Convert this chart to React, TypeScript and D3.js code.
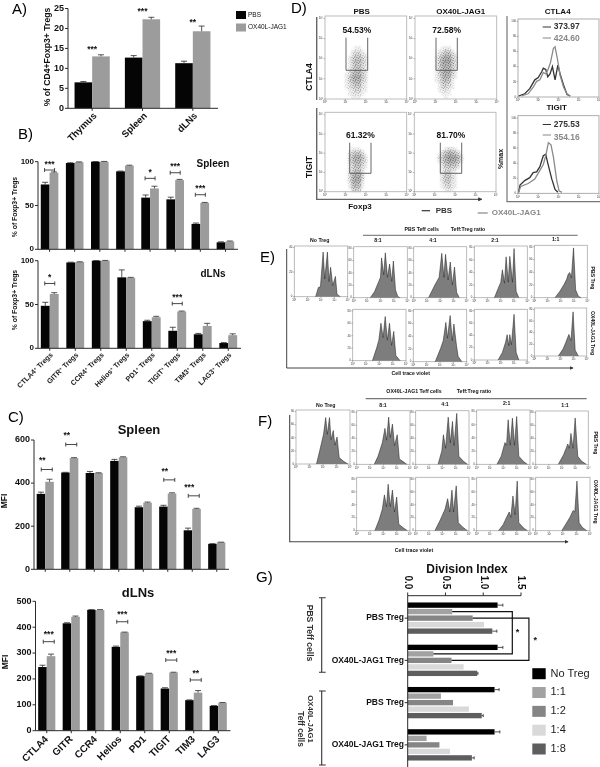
import React from 'react';
import * as d3 from 'd3';

const FONT = '"Liberation Sans", Arial, sans-serif';
const BLACK = '#050505';
const GREY = '#9c9c9c';
const AXIS = '#2b2b2b';

// panel A
const aGroups = ['Thymus', 'Spleen', 'dLNs'];
const aPbs = [6.5, 12.7, 11.3];
const aJag = [13, 22.3, 19.3];
const aPbsErr = [0.2, 0.5, 0.5];
const aJagErr = [0.4, 0.5, 1.3];
const aStars = ['***', '***', '**'];
const aStarLevel = [15.1, 24.5, 21.8];

// panel B
const markers = ['CTLA4', 'GITR', 'CCR4', 'Helios', 'PD1', 'TIGIT', 'TIM3', 'LAG3'];
const bSpleenPbs = [74, 98.5, 100, 89, 59, 57, 29, 8];
const bSpleenJag = [87.5, 99.5, 100, 95.5, 69.5, 79, 53, 9];
const bSpleenPbsErr = [2.5, 0.3, 0.2, 0.3, 3, 2.5, 1, 0.5];
const bSpleenJagErr = [0.8, 0.3, 0.3, 0.5, 2.5, 0.8, 0.5, 0.5];
const bSpleenStars = ['***', '', '', '', '*', '***', '***', ''];
const bSpleenLevel = [90.5, 0, 0, 0, 81, 87.4, 62.3, 0];
const bLnPbs = [48.5, 98, 100, 81, 31, 20, 16, 6];
const bLnJag = [62, 98.5, 100, 80.5, 35.5, 42, 25.5, 15];
const bLnPbsErr = [4, 0.3, 0.2, 8.5, 1, 4, 1, 0.5];
const bLnJagErr = [1.5, 0.3, 0.3, 0.5, 1, 0.5, 3, 1.5];
const bLnStars = ['*', '', '', '', '', '***', '', ''];
const bLnLevel = [74, 0, 0, 0, 0, 51, 0, 0];

// panel C
const cSpleenPbs = [350, 449, 447, 503, 288, 291, 181, 118];
const cSpleenJag = [406, 516, 447, 520, 309, 352, 280, 125];
const cSpleenPbsErr = [8, 1, 7, 7, 5, 6, 10, 1];
const cSpleenJagErr = [12, 2, 1, 2, 3, 3, 3, 1];
const cSpleenStars = ['**', '**', '', '', '', '**', '***', ''];
const cSpleenLevel = [463, 579, 0, 0, 0, 415, 341, 0];
const cLnPbs = [246, 415, 467, 324, 211, 163, 118, 96];
const cLnJag = [288, 440, 466, 380, 221, 225, 147, 108];
const cLnPbsErr = [7, 2, 1, 3, 1, 3, 1, 1];
const cLnJagErr = [8, 3, 2, 1, 1, 1, 8, 1];
const cLnStars = ['***', '', '', '***', '', '***', '**', ''];
const cLnLevel = [344, 0, 0, 421, 0, 273, 196, 0];

// panel D, dot density by log cell
const cloudPbsCtla4 = ['00011000', '00122100', '00244210', '01355320', '01466420', '01365320', '01355310', '02466320', '12677420', '13788420', '13677320', '12466210', '12344210', '01233110', '01222100', '00111000'];
const cloudJagCtla4 = ['00111000', '01243100', '02466310', '13788420', '14899520', '14888520', '13777420', '13788410', '13787310', '12676210', '12565100', '01443100', '01332100', '01221000', '00111000', '00010000'];
const cloudPbsTigit = ['00000000', '00000000', '00111000', '01344200', '02577410', '02688520', '02577420', '01466310', '01355210', '01466200', '02677300', '02788300', '02788200', '01676100', '01565100', '00343000'];
const cloudJagTigit = ['0000000000', '0000000000', '0001221000', '0024664200', '0136887510', '0247999620', '0136887510', '0025665300', '0013443100', '0013421000', '0024521000', '0024531000', '0024521000', '0013421000', '0012321000', '0001210000'];
const ctla4Pbs: [number, number][] = [[0.03, 0], [0.33, 3], [0.58, 10], [0.83, 22], [1, 25], [1.17, 33], [1.25, 38], [1.37, 36], [1.47, 26], [1.58, 30], [1.7, 40], [1.83, 22], [1.97, 42], [2.08, 30], [2.25, 15], [2.42, 2], [2.58, 0]];
const ctla4Jag: [number, number][] = [[0.17, 0], [0.5, 3], [0.75, 12], [0.92, 20], [1.08, 22], [1.25, 32], [1.37, 30], [1.47, 35], [1.6, 45], [1.75, 65], [1.83, 67], [1.95, 50], [2.08, 28], [2.25, 12], [2.42, 3], [2.58, 0]];
const tigitPbs: [number, number][] = [[0.03, 0], [0.1, 10], [0.33, 16], [0.58, 20], [0.75, 27], [0.92, 28], [1.08, 35], [1.25, 50], [1.37, 52], [1.47, 40], [1.67, 18], [1.83, 4], [1.97, 0]];
const tigitJag: [number, number][] = [[0.03, 0], [0.13, 8], [0.5, 12], [0.83, 18], [1.08, 30], [1.25, 38], [1.37, 50], [1.5, 68], [1.63, 65], [1.75, 48], [1.92, 15], [2.03, 2], [2.17, 0]];

// panel E histograms, [% of axis, % max]
const eNoTreg: [number, number][] = [[40, 0], [45, 18], [49, 20], [54, 88], [57, 35], [62, 88], [65, 30], [68, 58], [72, 22], [77, 40], [80, 5], [86, 0]];
const ePbs81: [number, number][] = [[31, 0], [39, 12], [46, 30], [50, 40], [52, 78], [56, 45], [59, 88], [63, 40], [67, 66], [71, 32], [74, 72], [78, 15], [82, 3], [86, 0]];
const ePbs41: [number, number][] = [[28, 0], [40, 25], [48, 40], [53, 87], [57, 40], [60, 85], [65, 35], [69, 70], [73, 25], [77, 60], [81, 10], [86, 0]];
const ePbs21: [number, number][] = [[38, 0], [45, 18], [50, 30], [53, 54], [57, 28], [60, 79], [64, 30], [67, 80], [72, 30], [75, 95], [79, 12], [84, 0]];
const ePbs11: [number, number][] = [[39, 0], [48, 12], [56, 25], [61, 35], [64, 45], [67, 48], [70, 38], [74, 95], [78, 15], [83, 3], [88, 0]];
const eJag81: [number, number][] = [[37, 0], [45, 25], [49, 40], [53, 73], [57, 45], [61, 86], [65, 40], [69, 73], [73, 30], [77, 57], [81, 10], [89, 0]];
const eJag41: [number, number][] = [[41, 0], [51, 25], [56, 40], [61, 75], [64, 45], [69, 88], [73, 40], [76, 72], [81, 30], [84, 10], [91, 0]];
const eJag21: [number, number][] = [[45, 0], [53, 15], [59, 35], [62, 50], [65, 28], [67, 50], [70, 30], [75, 90], [79, 15], [84, 0]];
const eJag11: [number, number][] = [[46, 0], [55, 15], [60, 28], [66, 45], [70, 32], [74, 92], [78, 12], [84, 0]];

// panel F histograms
const fNoTreg: [number, number][] = [[38, 0], [44, 25], [51, 55], [55, 86], [58, 55], [62, 86], [65, 45], [69, 62], [72, 35], [76, 50], [80, 12], [88, 5], [96, 0]];
const fPbs81: [number, number][] = [[33, 0], [40, 15], [48, 40], [53, 67], [56, 45], [60, 88], [63, 50], [67, 75], [71, 35], [76, 55], [80, 10], [87, 5], [94, 0]];
const fPbs41: [number, number][] = [[42, 0], [49, 25], [52, 55], [56, 30], [61, 88], [65, 40], [69, 80], [72, 35], [77, 95], [81, 15], [89, 6], [97, 0]];
const fPbs21: [number, number][] = [[38, 0], [46, 15], [53, 40], [56, 35], [59, 82], [63, 35], [67, 85], [71, 35], [75, 88], [79, 15], [88, 5], [95, 0]];
const fPbs11: [number, number][] = [[43, 0], [53, 18], [61, 38], [64, 30], [67, 58], [71, 30], [75, 87], [80, 15], [87, 6], [96, 0]];
const fJag81: [number, number][] = [[34, 0], [42, 20], [48, 40], [52, 67], [56, 45], [59, 87], [63, 45], [67, 76], [71, 35], [75, 63], [79, 12], [88, 5], [95, 0]];
const fJag41: [number, number][] = [[36, 0], [46, 20], [55, 40], [60, 60], [64, 35], [68, 76], [71, 35], [76, 84], [80, 15], [89, 6], [97, 0]];
const fJag21: [number, number][] = [[41, 0], [50, 12], [56, 25], [61, 35], [64, 25], [68, 65], [72, 30], [76, 93], [79, 15], [88, 5], [95, 0]];
const fJag11: [number, number][] = [[48, 0], [57, 15], [63, 25], [69, 38], [72, 35], [76, 93], [80, 15], [86, 6], [94, 0]];

// panel G
const gGroups = ['PBS Treg', 'OX40L-JAG1 Treg', 'PBS Treg ', 'OX40L-JAG1 Treg '];
const gRatios = ['No Treg', '1:1', '1:2', '1:4', '1:8'];
const gColors = ['#000000', '#a2a2a2', '#858585', '#d9d9d9', '#5e5e5e'];
const gValues = [
  [1.19, 0.59, 0.86, 1.01, 1.12],
  [1.19, 0.34, 0.58, 0.74, 0.92],
  [1.15, 0.44, 0.6, 0.81, 0.98],
  [1.15, 0.25, 0.42, 0.56, 0.85],
];
const gErrors = [
  [0.07, 0, 0, 0, 0.06],
  [0.07, 0, 0, 0, 0.01],
  [0.06, 0, 0, 0, 0.02],
  [0.07, 0, 0, 0, 0.03],
];

type Pt = [number, number];

function T({ x, y, size = 8, bold = true, fill = '#111', anchor = 'middle', rotate, children }: any) {
  return (
    <text
      x={x}
      y={y}
      fontSize={size}
      fontWeight={bold ? 700 : 400}
      fill={fill}
      textAnchor={anchor}
      dominantBaseline="middle"
      fontFamily={FONT}
      transform={rotate ? `rotate(${rotate} ${x} ${y})` : undefined}
    >
      {children}
    </text>
  );
}

function Bars(props: any) {
  const { x0, x1, top, bottom, yMax, yTicks, groups, a, b, ea, eb, stars, levels, tickSize = 8, bracketDx = 0, starDx = 0, starGap = 7, bracketW = 10, label } = props;
  const y = d3.scaleLinear().domain([0, yMax]).range([bottom, top]);
  const gx = d3.scaleBand<number>().domain(d3.range(groups.length)).range([x0, x1]).paddingInner(0.3).paddingOuter(0.15);
  const ix = d3.scaleBand<number>().domain([0, 1]).range([0, gx.bandwidth()]);
  return (
    <g>
      {groups.map((_: string, i: number) => [a[i], b[i]].map((v: number, k: number) => {
        const err = k === 0 ? ea[i] : eb[i];
        const left = gx(i)! + ix(k)!;
        const mid = left + ix.bandwidth() / 2;
        return (
          <g key={`${i}-${k}`}>
            <rect x={left} y={y(v)} width={ix.bandwidth()} height={bottom - y(v)} fill={k === 0 ? BLACK : GREY} />
            <path d={`M${mid},${y(v)}V${y(v + err)}M${mid - 3},${y(v + err)}H${mid + 3}`} stroke={AXIS} strokeWidth={0.8} fill="none" />
          </g>
        );
      }))}
      <path d={`M${x0 + 1},${top}V${bottom}H${x1}`} stroke={AXIS} fill="none" strokeWidth={1} />
      {yTicks.map((t: number) => (
        <g key={t}>
          <line x1={x0 - 2} x2={x0 + 1} y1={y(t)} y2={y(t)} stroke={AXIS} />
          <T x={x0 - 3} y={y(t)} size={tickSize} anchor="end">{t}</T>
        </g>
      ))}
      {groups.map((_: string, i: number) => {
        const c = gx(i)! + gx.bandwidth() / 2;
        return (
          <g key={i}>
            <line x1={c} x2={c} y1={bottom} y2={bottom + 2.5} stroke={AXIS} />
            {label && label(groups[i], c, bottom)}
            {stars && stars[i] && (
              <>
                {levels && bracketW > 0 && (
                  <path
                    d={`M${c + bracketDx - bracketW / 2},${y(levels[i]) - 2}v4M${c + bracketDx - bracketW / 2},${y(levels[i])}h${bracketW}M${c + bracketDx + bracketW / 2},${y(levels[i]) - 2}v4`}
                    stroke="#333"
                    strokeWidth={0.9}
                    fill="none"
                  />
                )}
                <T x={c + bracketDx + starDx} y={y(levels[i]) - starGap + 1.5} size={8.5}>{stars[i]}</T>
              </>
            )}
          </g>
        );
      })}
    </g>
  );
}

function Cloud({ rows, box }: { rows: string[]; box: number[] }) {
  const [x0, y0, x1, y1] = box;
  const cx = d3.scaleLinear().domain([0, 25]).range([x0, x1]);
  const cy = d3.scaleLinear().domain([-9, 16]).range([y0, y1]);
  const haze = d3.scaleLinear().domain([0, 9]).range([0, 0.42]);
  const speckle = d3.scaleLinear().domain([0, 3, 9]).range([0, 0.75, 1]);
  const cells = (fill: string, alpha: (d: number) => number) => rows.map((row, r) => row.split('').map((d, c) => (
    <rect key={`${r}-${c}`} x={cx(c + 6)} y={cy(r)} width={cx(1) - cx(0)} height={cy(1) - cy(0)} fill={fill} opacity={alpha(+d)} />
  )));
  return (
    <g>
      <g filter="url(#soft)">{cells('#333', haze)}</g>
      <g filter="url(#softer)">{cells('url(#speckle)', speckle)}</g>
    </g>
  );
}

function TinyTicks({ box, values, sup, decades = 4 }: any) {
  const [x0, y0, x1, y1] = box;
  const xs = d3.scaleLinear().domain([0, decades]).range([x0, x1]);
  const ys = d3.scaleLinear().domain([0, values.length - 1]).range([y1, y0 + (y1 - y0) * 0.03]);
  return (
    <g>
      {d3.range(decades + 1).map(i => (
        <g key={i}>
          <line x1={xs(i)} x2={xs(i)} y1={y1} y2={y1 + 1.5} stroke="#555" strokeWidth={0.4} />
          <T x={xs(i)} y={y1 + 3.5} size={2.8} bold={false} fill="#333">{`10${'⁰¹²³⁴'[i]}`}</T>
        </g>
      ))}
      {values.map((v: string, i: number) => (
        <g key={i}>
          <line x1={x0 - 1.5} x2={x0} y1={ys(i)} y2={ys(i)} stroke="#555" strokeWidth={0.4} />
          <T x={x0 - 2} y={ys(i)} size={2.8} bold={false} anchor="end" fill="#333">{sup ? `10${'⁰¹²³⁴'[i]}` : v}</T>
        </g>
      ))}
    </g>
  );
}

function DotPlot({ rows, box, gate, pct }: any) {
  const [x0, y0, x1, y1] = box;
  return (
    <g>
      <Cloud rows={rows} box={box} />
      <rect x={x0} y={y0} width={x1 - x0} height={y1 - y0} fill="none" stroke="#b5b5b5" strokeWidth={0.9} />
      <TinyTicks box={box} values={['0', '1', '2', '3', '4']} sup />
      <path d={`M${gate[0]},${gate[1]}V${gate[2]}H${gate[3]}V${gate[1]}`} fill="none" stroke="#555" strokeWidth={0.9} />
      <T x={(gate[0] + gate[3]) / 2} y={gate[1] - 6.5} size={8.5}>{pct}</T>
    </g>
  );
}

function MaxPlot({ box, dark, light }: { box: number[]; dark: Pt[]; light: Pt[] }) {
  const [x0, y0, x1, y1] = box;
  const x = d3.scaleLinear().domain([0, 4]).range([x0, x1]);
  const y = d3.scaleLinear().domain([0, 100]).range([y1 - 1, y0 + 3.5]);
  const line = d3.line<Pt>().x(d => x(d[0])).y(d => y(d[1]));
  return (
    <g>
      <rect x={x0} y={y0} width={x1 - x0} height={y1 - y0} fill="#fff" stroke="#999" strokeWidth={0.8} />
      <path d={line(dark)!} fill="none" stroke="#333" strokeWidth={1.3} />
      <path d={line(light)!} fill="none" stroke="#8a8a8a" strokeWidth={1.3} />
      <TinyTicks box={[x0, y0, x1, y1]} values={['0', '20', '40', '60', '80', '100']} />
    </g>
  );
}

function Hist({ box, data, ticks = 5 }: { box: number[]; data: Pt[]; ticks?: number }) {
  const [x0, y0, x1, y1] = box;
  const x = d3.scaleLinear().domain([0, 100]).range([x0, x1]);
  const y = d3.scaleLinear().domain([0, 100]).range([y1, y0]);
  const area = d3.area<Pt>().x(d => x(d[0])).y0(y1).y1(d => y(d[1]));
  const line = d3.line<Pt>().x(d => x(d[0])).y(d => y(d[1]));
  return (
    <g>
      <rect x={x0} y={y0} width={x1 - x0} height={y1 - y0} fill="#fff" stroke="#aaa" strokeWidth={0.8} />
      <path d={area(data)!} fill="#7d7d7d" />
      <path d={line(data)!} fill="none" stroke="#1a1a1a" strokeWidth={0.5} />
      <TinyTicks box={box} values={d3.range(ticks).map(i => `${i * 20}`)} />
    </g>
  );
}

function GPanel() {
  const x = d3.scaleLinear().domain([0, 1.5]).range([407.7, 521]);
  const gy = d3.scaleBand<number>().domain(d3.range(4)).range([597, 766]);
  const by = d3.scaleBand<number>().domain(d3.range(5)).range([0, gy.bandwidth()]).paddingInner(0.18).paddingOuter(0.84);
  const barMid = (g: number, b: number) => gy(g)! + by(b)! + by.bandwidth() / 2;
  const legendY = d3.scaleLinear().domain([0, 4]).range([673.7, 749]);
  return (
    <g>
      <T x={467} y={570} size={12}>Division Index</T>
      {gValues.map((row, g) => row.map((v, b) => {
        const err = gErrors[g][b];
        const m = barMid(g, b);
        return (
          <g key={`${g}-${b}`}>
            <rect x={x(0)} y={m - by.bandwidth() / 2} width={x(v) - x(0)} height={by.bandwidth()} fill={gColors[b]} />
            {err > 0 && <path d={`M${x(v)},${m}H${x(v + err)}M${x(v + err)},${m - 1.5}v3`} stroke="#222" strokeWidth={0.8} />}
          </g>
        );
      }))}
      <path d={`M${x(0)},767V595.7H${x(1.5)}`} fill="none" stroke={AXIS} />
      {x.ticks(3).map(t => (
        <g key={t}>
          <line x1={x(t)} x2={x(t)} y1={595.7} y2={592.5} stroke={AXIS} />
          <T x={x(t)} y={582.5} size={10} rotate={90}>{t.toFixed(1)}</T>
        </g>
      ))}
      {gGroups.map((name, g) => (
        <g key={g}>
          <line x1={x(0) - 3} x2={x(0)} y1={barMid(g, 2)} y2={barMid(g, 2)} stroke={AXIS} />
          <T x={404} y={barMid(g, 2)} size={8.5} anchor="end">{name.trim()}</T>
        </g>
      ))}
      <path d={`M${x(gValues[0][1])},${barMid(0, 1)}H${x(1.385)}V${barMid(1, 1)}H${x(gValues[1][1])}`} fill="none" stroke="#111" strokeWidth={1.2} />
      <path d={`M${x(gValues[0][2])},${barMid(0, 2)}H${x(1.605)}V${barMid(1, 2)}H${x(gValues[1][2])}`} fill="none" stroke="#111" strokeWidth={1.2} />
      <T x={x(1.455)} y={633} size={9}>*</T>
      <T x={x(1.69)} y={641} size={9}>*</T>
      <path d="M319,597.7h6.7M321.7,597.7V672.3M319,672.3h6.7M319,691h6.7M321.7,691V765M319,765h6.7" stroke="#333" strokeWidth={1.1} fill="none" />
      <T x={309} y={633} size={8.6} rotate={90} fill="#333">PBS Teff cells</T>
      <T x={310} y={719} size={7.8} rotate={90} fill="#333">OX40L-JAG1</T>
      <T x={300} y={729} size={8.4} rotate={90} fill="#333">Teff cells</T>
      {gRatios.map((r, i) => (
        <g key={r}>
          <rect x={532.3} y={legendY(i) - 5.5} width={13.4} height={11} fill={gColors[i]} />
          <T x={550.5} y={legendY(i)} size={11} bold={false} anchor="start" fill="#222">{r}</T>
        </g>
      ))}
    </g>
  );
}

export default function App() {
  const markerLabel = (name: string, c: number, base: number) => (
    <text key={name} transform={`translate(${c + 3.5},${base + 7}) rotate(-45)`} textAnchor="end" fontSize={7.2} fontWeight={700} fontFamily={FONT} fill="#222">
      {name}<tspan dy={-2} fontSize={4.5}>+</tspan><tspan dy={2}> Tregs</tspan>
    </text>
  );
  const plainLabel = (size: number, dy: number, dx: number) => (name: string, c: number, base: number) => (
    <text key={name} transform={`translate(${c + dx},${base + dy}) rotate(-45)`} textAnchor="end" fontSize={size} fontWeight={700} fontFamily={FONT} fill="#111">{name}</text>
  );

  return (
    <svg width={600} height={767} viewBox="0 0 600 767" style={{ position: 'absolute', left: 0, top: 0, background: '#fff', filter: 'blur(0.3px)' }}>
      <defs>
        <filter id="soft"><feGaussianBlur stdDeviation={1.2} /></filter>
        <filter id="softer"><feGaussianBlur stdDeviation={0.25} /></filter>
        <pattern id="speckle" patternUnits="userSpaceOnUse" width={5} height={5}>
          <rect x={0.3} y={0.6} width={0.7} height={0.7} fill="#111" />
          <rect x={2.7} y={0.2} width={0.7} height={0.7} fill="#111" />
          <rect x={4.1} y={1.7} width={0.7} height={0.7} fill="#111" />
          <rect x={1.6} y={2.1} width={0.7} height={0.7} fill="#111" />
          <rect x={3.1} y={3.2} width={0.7} height={0.7} fill="#111" />
          <rect x={0.5} y={3.9} width={0.7} height={0.7} fill="#111" />
        </pattern>
        <marker id="tip" viewBox="0 0 6 6" refX={5} refY={3} markerWidth={3.5} markerHeight={3.5} orient="auto"><path d="M0,0L6,3L0,6Z" fill="#333" /></marker>
      </defs>

      {/* panel letters */}
      <T x={12} y={10} size={15} bold={false} anchor="start" fill="#000">A)</T>
      <T x={18} y={135} size={15} bold={false} anchor="start" fill="#000">B)</T>
      <T x={8} y={418} size={15} bold={false} anchor="start" fill="#000">C)</T>
      <T x={291} y={9} size={15} bold={false} anchor="start" fill="#000">D)</T>
      <T x={260} y={258} size={15} bold={false} anchor="start" fill="#000">E)</T>
      <T x={258} y={422} size={15} bold={false} anchor="start" fill="#000">F)</T>
      <T x={256} y={578} size={15} bold={false} anchor="start" fill="#000">G)</T>

      {/* A */}
      <Bars x0={67} x1={218} top={8.5} bottom={108.3} yMax={25} yTicks={[0, 5, 10, 15, 20, 25]} groups={aGroups} a={aPbs} b={aJag} ea={aPbsErr} eb={aJagErr} stars={aStars} levels={aStarLevel} tickSize={9} bracketW={0} starGap={0} label={plainLabel(9.5, 8, 5)} />
      <T x={48} y={57} size={8.6} rotate={-90}>% of CD4+Foxp3+ Tregs</T>
      <rect x={236} y={11} width={10} height={8} fill={BLACK} />
      <T x={248} y={15} size={6.5} bold={false} anchor="start">PBS</T>
      <rect x={236} y={23.5} width={10} height={8} fill={GREY} />
      <T x={248} y={27.5} size={6.5} bold={false} anchor="start">OX40L-JAG1</T>

      {/* B */}
      <Bars x0={37} x1={238} top={161.7} bottom={249.3} yMax={100} yTicks={[0, 50, 100]} groups={markers} a={bSpleenPbs} b={bSpleenJag} ea={bSpleenPbsErr} eb={bSpleenJagErr} stars={bSpleenStars} levels={bSpleenLevel} />
      <T x={213} y={164} size={10}>Spleen</T>
      <T x={15} y={207} size={6.8} rotate={-90}>% of Foxp3+ Tregs</T>
      <Bars x0={37} x1={241} top={260.7} bottom={348.3} yMax={100} yTicks={[0, 50, 100]} groups={markers} a={bLnPbs} b={bLnJag} ea={bLnPbsErr} eb={bLnJagErr} stars={bLnStars} levels={bLnLevel} label={markerLabel} />
      <T x={213} y={274} size={10}>dLNs</T>
      <T x={15} y={300} size={6.8} rotate={-90}>% of Foxp3+ Tregs</T>

      {/* C */}
      <Bars x0={33} x1={229} top={440} bottom={569.3} yMax={600} yTicks={[0, 200, 400, 600]} groups={markers} a={cSpleenPbs} b={cSpleenJag} ea={cSpleenPbsErr} eb={cSpleenJagErr} stars={cSpleenStars} levels={cSpleenLevel} tickSize={9} bracketDx={1.5} starDx={-4.5} starGap={10} bracketW={11} />
      <T x={139} y={431} size={13}>Spleen</T>
      <T x={5} y={501} size={8.5} rotate={-90}>MFI</T>
      <Bars x0={34.5} x1={230.5} top={601.3} bottom={730.7} yMax={500} yTicks={[0, 100, 200, 300, 400, 500]} groups={markers} a={cLnPbs} b={cLnJag} ea={cLnPbsErr} eb={cLnJagErr} stars={cLnStars} levels={cLnLevel} tickSize={9} bracketDx={2} starGap={8} bracketW={11} label={plainLabel(10, 9, 2)} />
      <T x={138} y={594} size={13}>dLNs</T>
      <T x={6} y={662} size={8.5} rotate={-90}>MFI</T>

      {/* D */}
      <T x={361.7} y={12} size={8}>PBS</T>
      <T x={460.7} y={12} size={8}>OX40L-JAG1</T>
      <DotPlot rows={cloudPbsCtla4} box={[325, 16, 406.7, 99]} gate={[346, 37.7, 70.3, 367.7]} pct="54.53%" />
      <DotPlot rows={cloudJagCtla4} box={[415, 16, 496.7, 99]} gate={[436, 37.7, 70.3, 457.3]} pct="72.58%" />
      <DotPlot rows={cloudPbsTigit} box={[325, 112.3, 406.7, 191.7]} gate={[349.7, 142.7, 173.3, 371]} pct="61.32%" />
      <DotPlot rows={cloudJagTigit} box={[414.3, 112.3, 496, 191.7]} gate={[440.3, 142.7, 173.3, 461.7]} pct="81.70%" />
      <T x={310} y={77} size={8.5} rotate={-90}>CTLA4</T>
      <T x={310} y={167} size={8.5} rotate={-90}>TIGIT</T>
      <path d="M316.7,17V100M316.7,108V199.3" stroke="#666" strokeWidth={1.4} fill="none" />
      <path d="M316,199.3H481.7" stroke="#666" strokeWidth={1.2} fill="none" markerEnd="url(#tip)" />
      <T x={360} y={207} size={8}>Foxp3</T>
      <path d="M421.7,210.7H430" stroke="#333" strokeWidth={1.2} />
      <T x={435.7} y={211} size={8} fill="#333" anchor="start">PBS</T>
      <path d="M477.7,213H487.7" stroke="#888" strokeWidth={1.2} />
      <T x={491.7} y={213} size={8} fill="#888" anchor="start">OX40L-JAG1</T>
      <T x={557.7} y={12} size={8}>CTLA4</T>
      <T x={556.7} y={108} size={8}>TIGIT</T>
      <MaxPlot box={[518, 19, 599, 97]} dark={ctla4Pbs} light={ctla4Jag} />
      <MaxPlot box={[518, 115.7, 599, 193.3]} dark={tigitPbs} light={tigitJag} />
      <path d="M507,16V201.7H600" stroke="#777" strokeWidth={1.2} fill="none" />
      <T x={500.7} y={159} size={7} rotate={-90}>%max</T>
      <path d="M542.7,27H551M542.7,124.5H551" stroke="#333" strokeWidth={1.2} />
      <path d="M542.7,38H551M542.7,135H551" stroke="#888" strokeWidth={1.2} />
      <T x={553.7} y={27} size={8.5} anchor="start" fill="#333">373.97</T>
      <T x={553.7} y={38.5} size={8.5} anchor="start" fill="#888">424.60</T>
      <T x={553.7} y={124.5} size={8.5} anchor="start" fill="#333">275.53</T>
      <T x={553.7} y={138} size={8.5} anchor="start" fill="#888">354.16</T>

      {/* E */}
      <T x={421.7} y={229.7} size={5.2}>PBS Teff cells</T>
      <T x={468} y={229.7} size={5.2}>Teff:Treg ratio</T>
      <path d="M363,235.3H577.7" stroke="#444" strokeWidth={0.8} />
      <T x={319.7} y={241} size={5.2}>No Treg</T>
      <T x={378} y={241} size={5.2}>8:1</T>
      <T x={433} y={241} size={5.2}>4:1</T>
      <T x={495} y={241} size={5.2}>2:1</T>
      <T x={555.7} y={240} size={5.2}>1:1</T>
      <Hist box={[294.3, 246, 347.7, 296.7]} data={eNoTreg} ticks={3} />
      <Hist box={[353.7, 246.7, 407.3, 297.7]} data={ePbs81} />
      <Hist box={[413.7, 246.7, 466.7, 297.7]} data={ePbs41} />
      <Hist box={[474.3, 246, 527.3, 297.7]} data={ePbs21} />
      <Hist box={[534.3, 245.3, 587.3, 297.7]} data={ePbs11} />
      <Hist box={[352.7, 309.3, 406, 360.7]} data={eJag81} />
      <Hist box={[413.3, 309.3, 466.7, 361.7]} data={eJag41} />
      <Hist box={[474.3, 309.3, 527.3, 360]} data={eJag21} />
      <Hist box={[534.3, 308, 586.7, 356]} data={eJag11} />
      <T x={592} y={278} size={5.2} rotate={90}>PBS Treg</T>
      <T x={592} y={333} size={5.2} rotate={90}>OX40L-JAG1 Treg</T>
      <path d="M286.7,249V368H573" stroke="#444" strokeWidth={1} fill="none" markerEnd="url(#tip)" />
      <T x={410.7} y={374} size={5.2}>Cell trace violet</T>

      {/* F */}
      <T x={414} y={392} size={5.2}>OX40L-JAG1 Teff cells</T>
      <T x={474} y={392} size={5.2}>Teff:Treg ratio</T>
      <path d="M365.7,398.7H586.7" stroke="#777" strokeWidth={1.2} />
      <T x={325.7} y={405.7} size={5.2}>No Treg</T>
      <T x={383} y={405.7} size={5.2}>8:1</T>
      <T x={445} y={405} size={5.2}>4:1</T>
      <T x={506.7} y={404} size={5.2}>2:1</T>
      <T x={565} y={405.7} size={5.2}>1:1</T>
      <Hist box={[296, 410, 350, 464]} data={fNoTreg} />
      <Hist box={[356.7, 410.7, 410, 464.3]} data={fPbs81} />
      <Hist box={[415.7, 410.7, 469, 464.3]} data={fPbs41} />
      <Hist box={[476.7, 410, 530, 464.3]} data={fPbs21} />
      <Hist box={[535.7, 411, 588.3, 464.3]} data={fPbs11} />
      <Hist box={[356.7, 477.3, 410, 530.7]} data={fJag81} />
      <Hist box={[415.7, 477.3, 469, 530.7]} data={fJag41} />
      <Hist box={[476.7, 477.3, 530, 530.7]} data={fJag21} />
      <Hist box={[535.7, 477.3, 590, 530.7]} data={fJag11} />
      <T x={595} y={443} size={5.2} rotate={90}>PBS Treg</T>
      <T x={595} y={501.7} size={5.2} rotate={90}>OX40L-JAG1 Treg</T>
      <path d="M289.7,415V541.7H568" stroke="#444" strokeWidth={1.1} fill="none" markerEnd="url(#tip)" />
      <T x={414} y={551} size={5.2}>Cell trace violet</T>

      <GPanel />
    </svg>
  );
}
